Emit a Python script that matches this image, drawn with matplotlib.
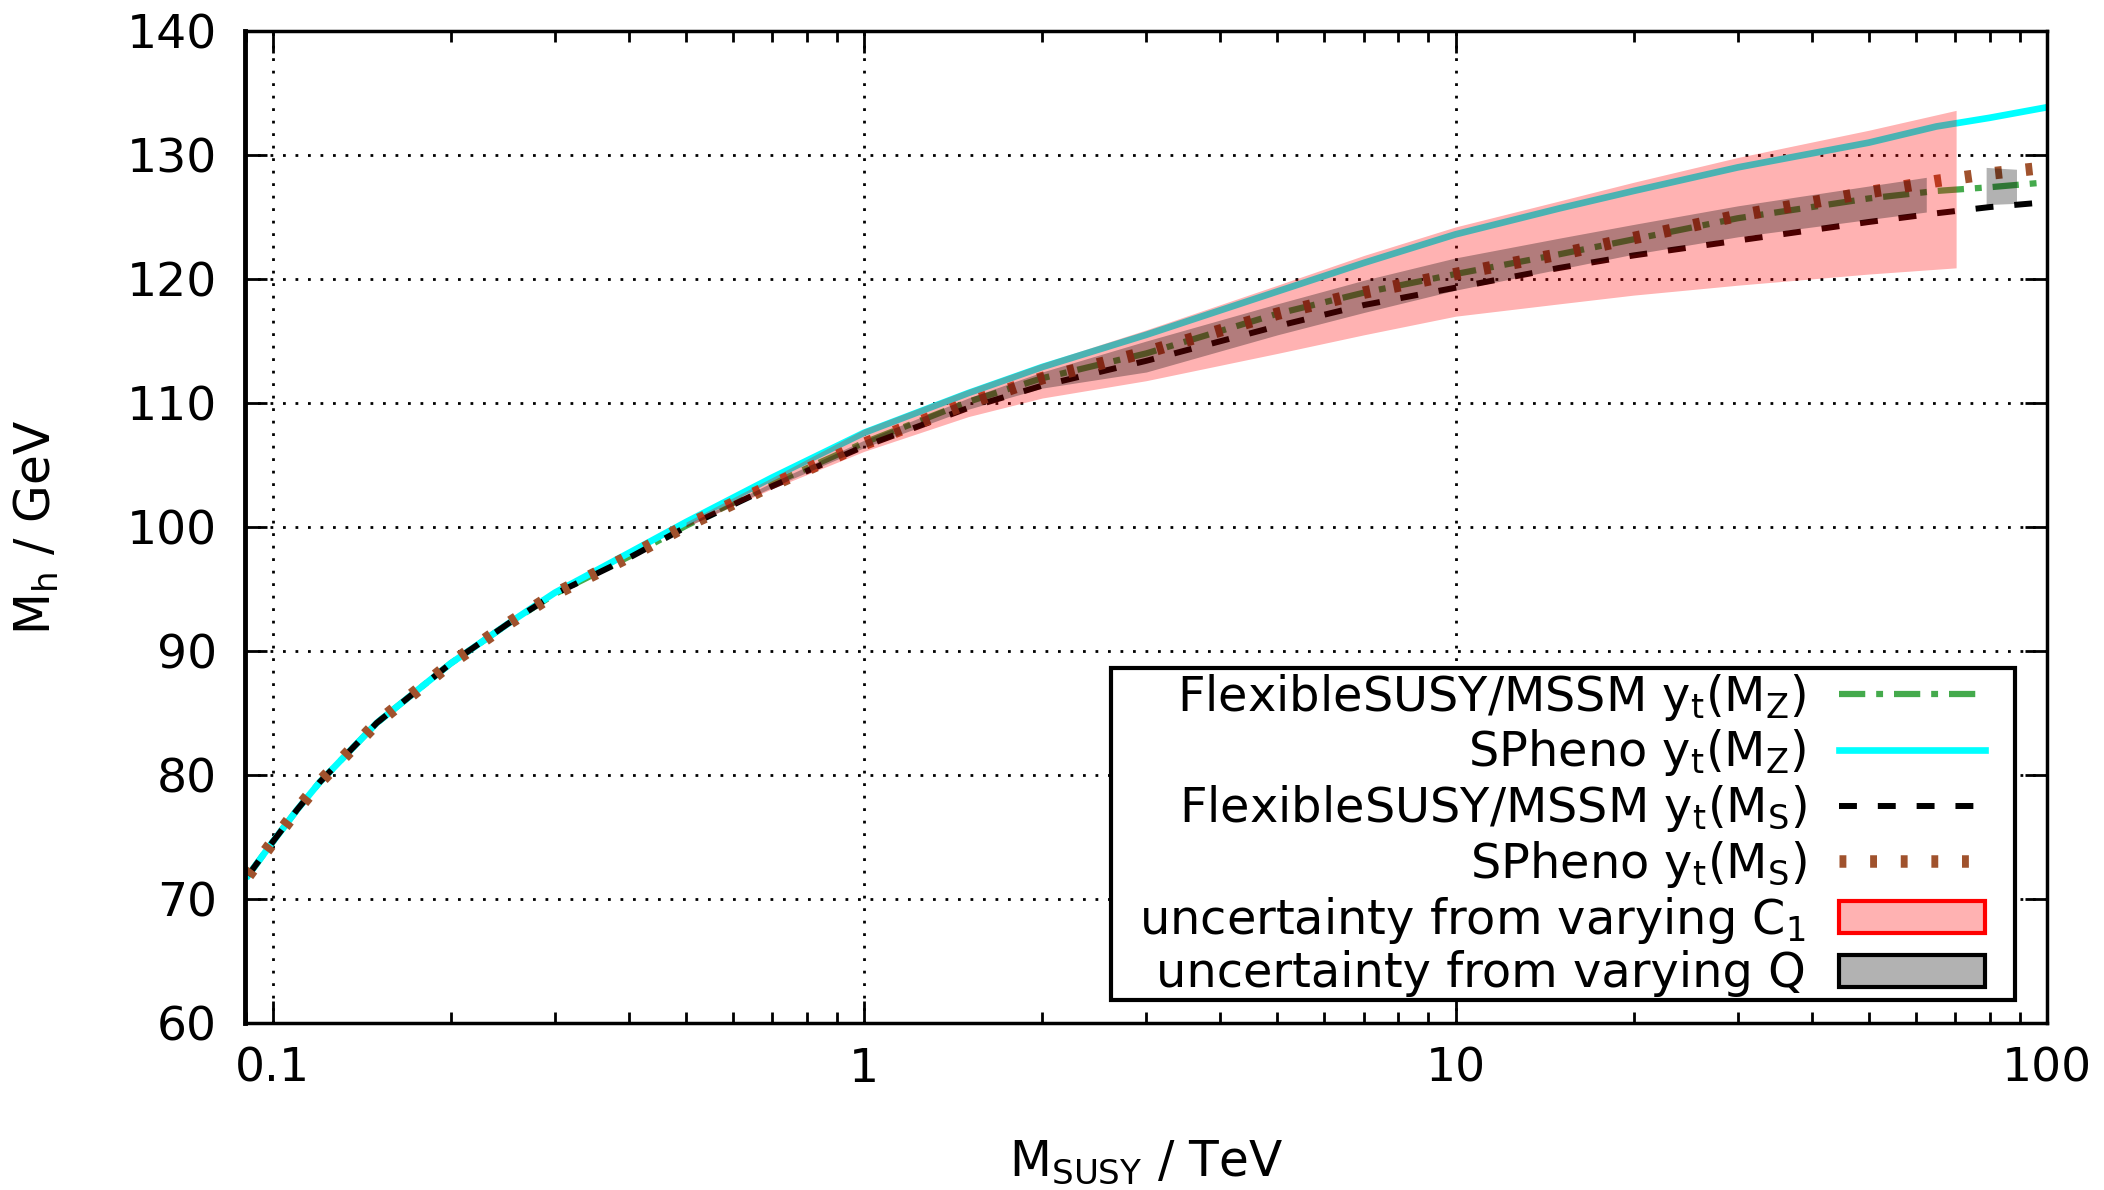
import numpy as np
import matplotlib
matplotlib.use("Agg")
import matplotlib.pyplot as plt
from matplotlib.patches import Patch, Rectangle
from matplotlib.ticker import FixedLocator, FixedFormatter, LogLocator, NullFormatter

plt.rcParams['font.family'] = ['DejaVu Sans']
plt.rcParams['mathtext.default'] = 'regular'

# SUSY scale in TeV
ms = [0.0909, 0.1, 0.11, 0.12, 0.15, 0.2, 0.25, 0.3, 0.4, 0.5, 0.7, 1.0, 1.5, 2.0,
      3.0, 5.0, 7.0, 10.0, 15.0, 20.0, 30.0, 50.0, 65.0, 80.0, 100.0]

# Higgs mass predictions in GeV
fs_mz = [71.9, 74.6, 77.2, 79.4, 84.2, 89.0, 92.2, 94.6, 97.6, 100.1, 103.5, 106.8, 110.1, 112.0,
         114.0, 117.2, 118.9, 120.4, 122.0, 123.2, 124.9, 126.5, 127.1, 127.4, 127.8]
sph_mz = [71.9, 74.6, 77.2, 79.4, 84.2, 89.0, 92.2, 94.7, 97.9, 100.4, 104.0, 107.6, 110.8, 112.9,
          115.5, 119.0, 121.3, 123.6, 125.7, 127.1, 129.0, 131.0, 132.3, 133.0, 133.85]
fs_ms = [71.9, 74.6, 77.2, 79.4, 84.2, 89.0, 92.2, 94.6, 97.5, 100.0, 103.3, 106.5, 109.6, 111.4,
         113.4, 116.2, 117.9, 119.3, 120.9, 121.9, 123.1, 124.6, 125.3, 125.8, 126.2]
sph_ms = [71.9, 74.6, 77.2, 79.4, 84.2, 89.0, 92.2, 94.6, 97.6, 100.1, 103.4, 106.7, 110.0, 112.0,
          114.1, 117.2, 118.9, 120.4, 122.0, 123.3, 125.1, 127.0, 127.9, 128.5, 129.0]

# uncertainty from varying C1
c1_ms = [0.5, 0.7, 1.0, 1.5, 2.0, 3.0, 5.0, 7.0, 10.0, 15.0, 20.0, 30.0, 50.0, 70.2]
c1_lo = [100.0, 103.1, 106.1, 108.9, 110.4, 111.8, 114.0, 115.5, 117.0, 118.0, 118.7, 119.5, 120.4, 120.9]
c1_hi = [100.4, 104.0, 107.9, 111.1, 113.2, 115.9, 119.5, 121.9, 124.2, 126.3, 127.8, 129.8, 132.0, 133.6]

# uncertainty from varying Q
q_ms = [0.5, 0.7, 1.0, 1.5, 2.0, 3.0, 5.0, 7.0, 10.0, 15.0, 20.0, 30.0, 50.0, 62.5]
q_lo = [100.0, 103.2, 106.4, 109.5, 111.2, 112.5, 115.5, 117.3, 119.1, 120.8, 122.0, 123.4, 124.8, 125.4]
q_hi = [100.2, 103.6, 107.0, 110.4, 112.5, 115.0, 118.0, 119.9, 121.7, 123.3, 124.4, 125.9, 127.5, 128.2]
q2_ms = [78.9, 88.8]
q2_lo = [126.0, 126.1]
q2_hi = [129.0, 128.85]

green = '#44aa4c'
brown = '#a0522d'
green_dash = (4.2, 1.75, 1.1, 1.75)
black_dash = (3, 3.5)
brown_dash = (0.55, 1.9)

fig = plt.figure(figsize=(21.04, 11.90), dpi=100)
ax = fig.add_axes([245 / 2104, 1 - 1023 / 1190, 1802 / 2104, 992 / 1190])

ax.plot(ms, fs_mz, color=green, lw=4.5, dashes=green_dash, zorder=2)
ax.plot(ms, sph_mz, color='#00ffff', lw=4.8, zorder=2)
ax.plot(ms, fs_ms, color='black', lw=4.3, dashes=black_dash, zorder=2)
ax.plot(ms, sph_ms, color=brown, lw=9, dashes=brown_dash, zorder=2)

ax.fill_between(c1_ms, c1_lo, c1_hi, color='red', alpha=0.3, lw=0, zorder=3)
ax.fill_between(q_ms, q_lo, q_hi, color='black', alpha=0.3, lw=0, zorder=3)
ax.fill_between(q2_ms, q2_lo, q2_hi, color='black', alpha=0.3, lw=0, zorder=3)

ax.set_xscale('log')
ax.set_xlim(0.0898, 100)
ax.set_ylim(60, 140)
ax.xaxis.set_major_locator(FixedLocator([0.1, 1, 10, 100]))
ax.xaxis.set_major_formatter(FixedFormatter(['0.1', '1', '10', '100']))
ax.xaxis.set_minor_locator(LogLocator(base=10, subs=np.arange(2, 10)))
ax.xaxis.set_minor_formatter(NullFormatter())
ax.set_yticks(np.arange(60, 141, 10))

ax.tick_params(which='both', direction='in', top=True, right=True, labelsize=34, width=2)
ax.tick_params(which='major', length=16)
ax.tick_params(which='minor', length=8)
ax.tick_params(axis='x', pad=17)
ax.tick_params(axis='y', pad=20)

ax.grid(True, which='major', color='black', lw=2, linestyle=(0, (1, 3.5)))
for side in ['top', 'right', 'bottom']:
    ax.spines[side].set_linewidth(2.5)
ax.spines['left'].set_linewidth(3.5)

ax.set_xlabel(r'$M_{SUSY}$ / TeV', fontsize=35)
ax.set_ylabel(r'$M_h$ / GeV', fontsize=35)
ax.xaxis.set_label_coords(0.5, -0.116)
ax.yaxis.set_label_coords(-0.102, 0.5)

# legend box, drawn separately so the padding round the entries can differ per side
box = Rectangle((0.4806, 0.0232), 0.9822 - 0.4806, 0.3579 - 0.0232, transform=ax.transAxes,
                facecolor='white', edgecolor='black', lw=3, zorder=4)
ax.add_patch(box)

handles = [
    plt.Line2D([], [], color=green, lw=4.5, dashes=green_dash),
    plt.Line2D([], [], color='#00ffff', lw=4.8),
    plt.Line2D([], [], color='black', lw=4.3, dashes=black_dash),
    plt.Line2D([], [], color=brown, lw=9, dashes=brown_dash),
    Patch(facecolor=(1, 0, 0, 0.3), edgecolor='red', lw=3),
    Patch(facecolor=(0, 0, 0, 0.3), edgecolor='black', lw=3),
]
labels = [
    r'FlexibleSUSY/MSSM $y_t(M_Z)$',
    r'SPheno $y_t(M_Z)$',
    r'FlexibleSUSY/MSSM $y_t(M_S)$',
    r'SPheno $y_t(M_S)$',
    r'uncertainty from varying $C_1$',
    r'uncertainty from varying Q',
]
leg = ax.legend(handles, labels, loc='center right', bbox_to_anchor=(0.9656, 0.190),
                borderaxespad=0, markerfirst=False, fontsize=34.5, handlelength=3.05,
                handleheight=0.66, handletextpad=0.68, labelspacing=0.1, borderpad=0,
                frameon=False)
leg.set_zorder(5)

fig.savefig('out.png', dpi=100)
